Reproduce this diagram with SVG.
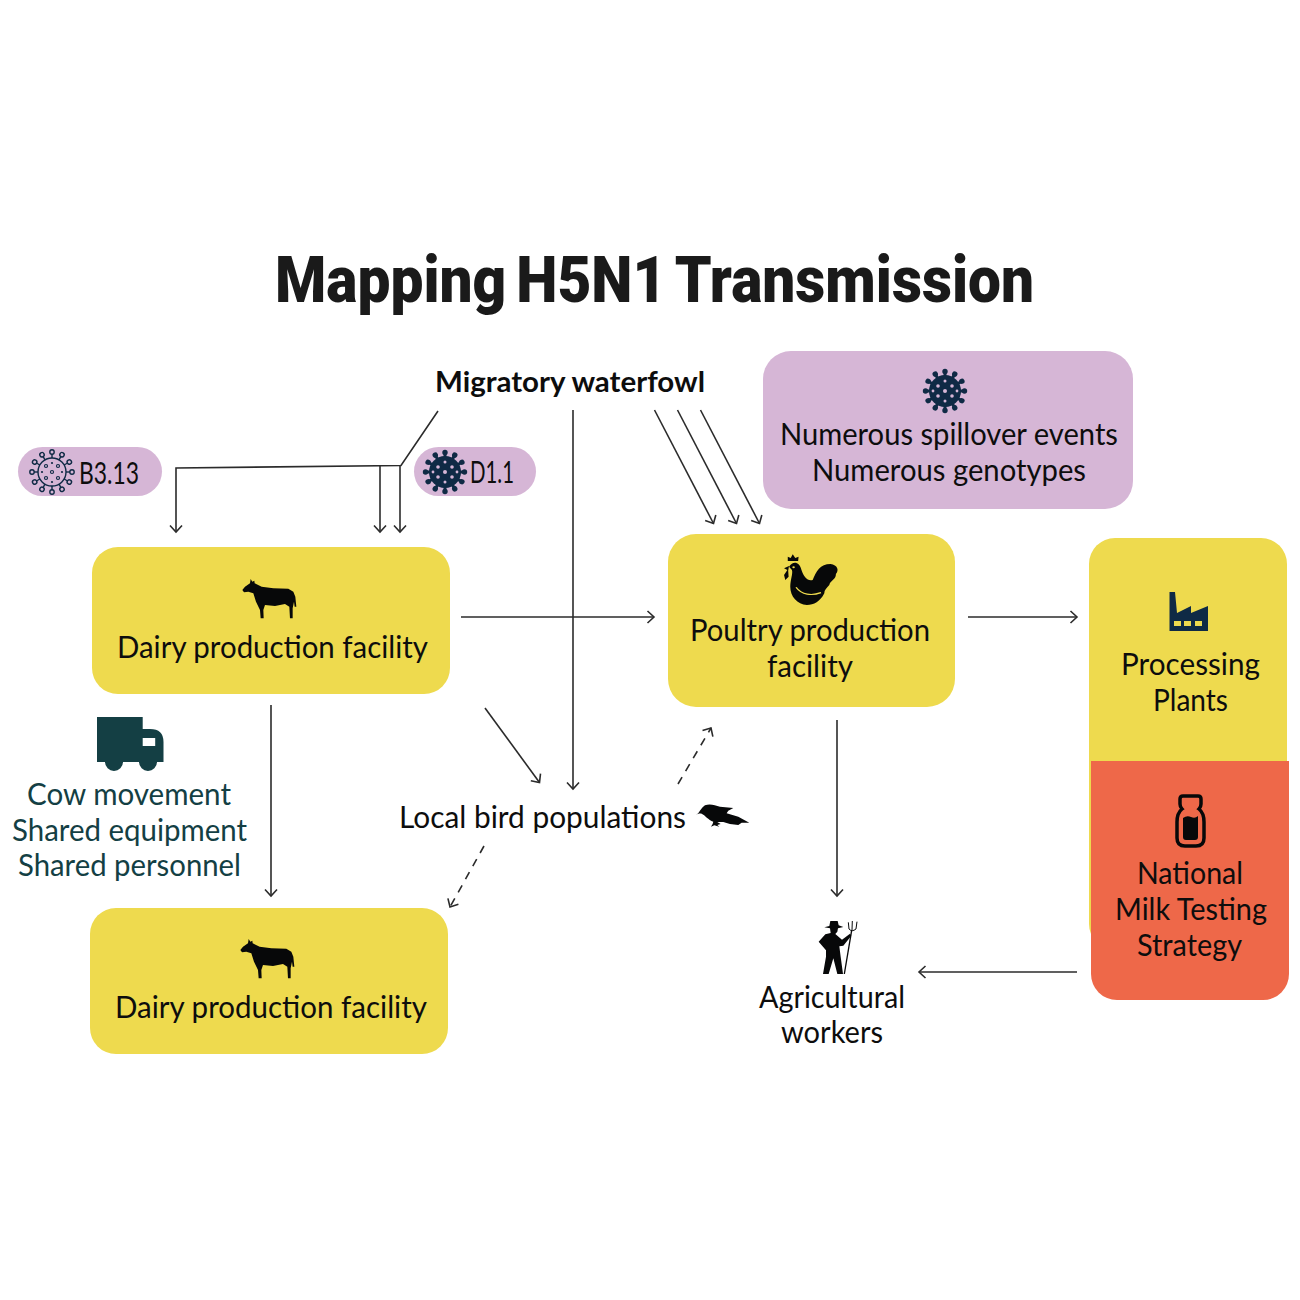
<svg xmlns="http://www.w3.org/2000/svg" width="1300" height="1300" viewBox="0 0 1300 1300">
<style>
text{font-family:"Lato","Noto Sans",sans-serif;font-size:30px;fill:#0d0d0d;text-anchor:start}
.title{font-family:"Roboto","Liberation Sans",sans-serif;font-weight:900;font-size:64px;fill:#1a1a1a;word-spacing:-5px}
.bold{font-weight:700;font-size:29px}
.teal{fill:#143f44}
.y{fill:#eeda4e}.p{fill:#d6b6d6}.r{fill:#ee6849}
.ln{fill:none;stroke:#2b2b2b;stroke-width:1.6;marker-end:url(#a)}
.dash{stroke-dasharray:8 7}
.ink{fill:#070809}.navy{fill:#0f2a45}
</style>
<defs>
<marker id="a" markerUnits="userSpaceOnUse" markerWidth="20" markerHeight="20" viewBox="-10 -10 20 20" refX="0" refY="0" orient="auto"><path d="M-6.500,-6 L0,0 L-6.500,6" fill="none" stroke="#2b2b2b" stroke-width="1.6"/></marker>
<g id="sp"><path d="M0,-13V-19" stroke="#0f2a45" stroke-width="3"/><circle cy="-19.500" r="2.700" fill="#0f2a45"/></g>
<g id="sp2"><path d="M0,-14V-18" stroke="#0f2a45" stroke-width="1.400"/><circle cy="-20" r="2.200" fill="none" stroke="#0f2a45" stroke-width="1.400"/></g>
<g id="spikes"><use href="#sp"/><use href="#sp" transform="rotate(30)"/><use href="#sp" transform="rotate(60)"/><use href="#sp" transform="rotate(90)"/><use href="#sp" transform="rotate(120)"/><use href="#sp" transform="rotate(150)"/><use href="#sp" transform="rotate(180)"/><use href="#sp" transform="rotate(210)"/><use href="#sp" transform="rotate(240)"/><use href="#sp" transform="rotate(270)"/><use href="#sp" transform="rotate(300)"/><use href="#sp" transform="rotate(330)"/></g>
<g id="solid"><use href="#spikes"/><circle r="16" fill="#0f2a45"/>
<g class="p"><circle r="2"/><circle cx="-7" cy="-5" r="1.800"/><circle cx="7" cy="-5" r="1.800"/><circle cx="-7" cy="5" r="1.800"/><circle cx="7" cy="5" r="1.800"/><circle cy="-10" r="1.500"/><circle cy="10" r="1.500"/><circle cx="-12" r="1.400"/><circle cx="12" r="1.400"/></g></g>
<path id="cow" class="ink" d="M67,90 L75,80 L90,70 L92,57 L97,65 L103,62 L104,70 L125,80 L160,85 L205,86 L220,95 L226,110 L229,140 L224,140 L222,125 L218,145 L218,175 L210,175 L208,140 L195,132 L165,138 L135,135 L130,150 L131,175 L122,175 L120,150 L108,125 L100,100 L85,95 L72,97 Z"/>
</defs>

<text class="title" x="275" y="302" textLength="759" lengthAdjust="spacingAndGlyphs">Mapping H5N1 Transmission</text>

<g id="connectors">
<path class="ln" d="M438,411 L401,465.500 L176,468 V532"/>
<path class="ln" d="M380,466 V532"/>
<path class="ln" d="M400,466 V532"/>
<path class="ln" d="M573,410 V789"/>
<path class="ln" d="M654.500,410 L713.500,523.500"/>
<path class="ln" d="M677.500,410 L736.500,523.500"/>
<path class="ln" d="M700.500,410 L759.500,523.500"/>
<path class="ln" d="M461,617 H654"/>
<path class="ln" d="M968,617 H1077"/>
<path class="ln" d="M271,705 V896"/>
<path class="ln" d="M485,708 L539.500,782.500"/>
<path class="ln dash" d="M678,784 L711,728"/>
<path class="ln dash" d="M484,846 L450,907"/>
<path class="ln" d="M837,720 V896"/>
<path class="ln" d="M1077,972 H919"/>
</g>

<g id="migratory"><text class="bold" x="435" y="392" textLength="270" lengthAdjust="spacingAndGlyphs">Migratory waterfowl</text></g>

<g id="b313">
<rect class="p" x="18" y="447" width="144" height="49" rx="24.500"/>
<g transform="translate(52,472)"><circle r="14" fill="none" stroke="#0f2a45" stroke-width="1.400"/>
<use href="#sp2"/><use href="#sp2" transform="rotate(30)"/><use href="#sp2" transform="rotate(60)"/><use href="#sp2" transform="rotate(90)"/><use href="#sp2" transform="rotate(120)"/><use href="#sp2" transform="rotate(150)"/><use href="#sp2" transform="rotate(180)"/><use href="#sp2" transform="rotate(210)"/><use href="#sp2" transform="rotate(240)"/><use href="#sp2" transform="rotate(270)"/><use href="#sp2" transform="rotate(300)"/><use href="#sp2" transform="rotate(330)"/>
<g fill="none" stroke="#0f2a45" stroke-width="1.200"><circle cx="-6" cy="-6" r="1.500"/><circle cx="6" cy="-6" r="1.500"/><circle cx="-6" cy="6" r="1.500"/><circle cx="6" cy="6" r="1.500"/><circle r="1.500"/></g>
<g fill="#0f2a45"><circle cy="-9" r="1.100"/><circle cy="10" r="1.100"/><circle cx="-10" r="1.100"/><circle cx="10" r="1.100"/></g></g>
<text x="79" y="484" textLength="60" lengthAdjust="spacingAndGlyphs">B3.13</text>
</g>

<g id="d11">
<rect class="p" x="414" y="447" width="122" height="49" rx="24.500"/>
<use href="#solid" x="445" y="472"/>
<text x="470" y="483" textLength="44" lengthAdjust="spacingAndGlyphs">D1.1</text>
</g>

<g id="spillover">
<rect class="p" x="763" y="351" width="370" height="158" rx="28"/>
<use href="#solid" x="945" y="391"/>
<text x="780" y="445" textLength="338" lengthAdjust="spacingAndGlyphs">Numerous spillover events</text>
<text x="812" y="481" textLength="274" lengthAdjust="spacingAndGlyphs">Numerous genotypes</text>
</g>

<g id="dairy1">
<rect class="y" x="92" y="547" width="358" height="147" rx="26"/>
<use href="#cow" transform="translate(220,560) scale(.3333)"/>
<text x="117" y="658" textLength="311" lengthAdjust="spacingAndGlyphs">Dairy production facility</text>
</g>

<g id="dairy2">
<rect class="y" x="90" y="908" width="358" height="146" rx="26"/>
<use href="#cow" transform="translate(218,920) scale(.3333)"/>
<text x="115" y="1018" textLength="312" lengthAdjust="spacingAndGlyphs">Dairy production facility</text>
</g>

<g id="poultry">
<rect class="y" x="668" y="534" width="287" height="173" rx="28"/>
<g transform="translate(650,350) scale(.415,.3333)">
<path class="ink" d="M335,650 C345,632 360,635 365,660 C370,680 380,695 392,690 C400,665 410,642 435,642 C452,645 456,660 448,672 C448,690 435,690 432,705 C425,715 420,720 420,730 C410,755 395,765 378,765 C355,762 338,740 338,710 C338,690 345,670 342,660 Z"/>
<path class="ink" d="M332,633 L332,620 L339,624 L344,613 L350,624 L358,620 L357,633 Z"/>
<path class="ink" d="M335,648 L323,655 L331,660 L323,675 L326,690 L334,680 L333,662 Z"/>
<path d="M352,712 C365,735 390,738 412,728" fill="none" stroke="#eeda4e" stroke-width="3.500"/>
<circle class="y" cx="346" cy="652" r="3"/>
</g>
<text x="690" y="641" textLength="240" lengthAdjust="spacingAndGlyphs">Poultry production</text>
<text x="767" y="677" textLength="86" lengthAdjust="spacingAndGlyphs">facility</text>
</g>

<g id="processing">
<rect class="y" x="1089" y="538" width="198" height="412" rx="26"/>
<path class="navy" d="M1169.500,592 H1175 L1177,613 L1191,606 V613 L1208,606 V631 H1169.500 Z"/>
<g class="y"><rect x="1174" y="621" width="7" height="5"/><rect x="1184" y="621" width="7" height="5"/><rect x="1195" y="621" width="7" height="5"/></g>
<text x="1121" y="675" textLength="139" lengthAdjust="spacingAndGlyphs">Processing</text>
<text x="1153" y="711" textLength="75" lengthAdjust="spacingAndGlyphs">Plants</text>
</g>

<g id="milk">
<path class="r" d="M1091,761 H1289 V974 A26,26 0 0 1 1263,1000 H1117 A26,26 0 0 1 1091,974 Z"/>
<path d="M1180,799 Q1180,796 1183,796 H1198 Q1201,796 1201,799 V804 Q1201,807 1199,809 Q1204,813 1204,822 V838 Q1204,846 1196,846 H1185 Q1177,846 1177,838 V822 Q1177,813 1182,809 Q1180,807 1180,804 Z" fill="none" stroke="#070809" stroke-width="3.500"/>
<path class="ink" d="M1183,818 Q1187,815 1191,817 T1198,816 V837 Q1198,840 1195,840 H1186 Q1183,840 1183,837 Z"/>
<text x="1137" y="884" textLength="106" lengthAdjust="spacingAndGlyphs">National</text>
<text x="1115" y="920" textLength="152" lengthAdjust="spacingAndGlyphs">Milk Testing</text>
<text x="1137" y="956" textLength="105" lengthAdjust="spacingAndGlyphs">Strategy</text>
</g>

<g id="workers">
<g transform="translate(800,915) scale(.3333)">
<path class="ink" d="M73,37 L88,33 L91,18 L113,18 L116,31 L130,36 L114,40 L112,50 L106,57 L126,74 L150,56 L154,62 L130,92 L118,94 L122,125 L129,177 L112,177 L100,130 L86,177 L69,177 L78,125 L78,106 L56,80 L76,58 L92,54 L90,40 Z"/>
<path d="M133,177 L155,46" fill="none" stroke="#070809" stroke-width="4"/>
<path d="M145,22 L147,42 Q156,52 168,42 L171,20 M157,18 L156,46" fill="none" stroke="#070809" stroke-width="3"/>
</g>
<text x="759" y="1008" textLength="146" lengthAdjust="spacingAndGlyphs">Agricultural</text>
<text x="781" y="1043" textLength="102" lengthAdjust="spacingAndGlyphs">workers</text>
</g>

<g id="local-birds">
<text x="399" y="828" textLength="287" lengthAdjust="spacingAndGlyphs">Local bird populations</text>
<path class="ink" transform="translate(380,700) scale(.3333)" d="M948,345 C958,340 962,325 975,316 C990,310 1005,316 1020,320 L1060,324 L1045,332 L1040,340 L1075,350 L1108,368 L1085,368 L1075,375 L1050,372 L1030,366 L1012,366 L1022,372 L1012,375 L1018,380 L1003,376 L993,380 L998,372 L1000,365 C985,360 975,345 965,341 C958,340 952,342 948,345Z"/>
</g>

<g id="cow-movement">
<path class="teal" d="M97,717 H142.700 V729 H150 Q163.500,729 163.500,742 V762 H157 A8.500,8.500 0 0 1 139,762 H123 A8.500,8.500 0 0 1 105,762 H97 Z"/>
<rect x="142.700" y="738" width="12.500" height="8" fill="#fff"/>
<text class="teal" x="27" y="805" textLength="204" lengthAdjust="spacingAndGlyphs">Cow movement</text>
<text class="teal" x="12" y="841" textLength="235" lengthAdjust="spacingAndGlyphs">Shared equipment</text>
<text class="teal" x="18" y="876" textLength="223" lengthAdjust="spacingAndGlyphs">Shared personnel</text>
</g>
</svg>
